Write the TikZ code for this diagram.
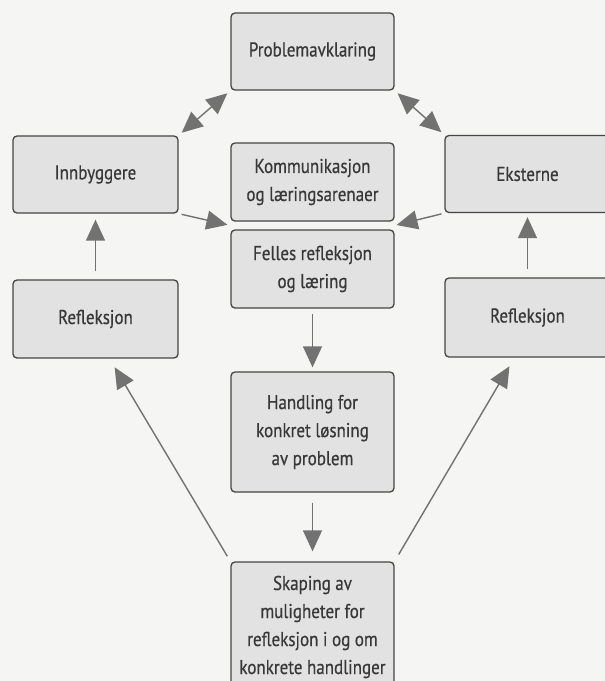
\documentclass[tikz,border=0pt]{standalone}
\usepackage{fontspec}
\setmainfont{PT Sans}[FakeStretch=0.85,FakeBold=0.5]
\usetikzlibrary{arrows.meta,calc}
\definecolor{paper}{HTML}{F5F5F4}
\definecolor{boxfill}{HTML}{E2E2E2}
\definecolor{boxline}{HTML}{454545}
\definecolor{arrgray}{HTML}{727272}
\definecolor{txt}{HTML}{383838}
\tikzset{
  box/.style={draw=boxline, line width=1.3pt, fill=boxfill, rounded corners=4pt,
    minimum width=163pt, align=center, text=txt, inner sep=2pt,
    font=\fontsize{20}{28}\selectfont},
  arr/.style={draw=arrgray, line width=1.4pt,
    -{Triangle[length=21pt,width=19pt]}},
  darr/.style={draw=arrgray, line width=1.4pt,
    {Triangle[length=21pt,width=19pt]}-{Triangle[length=21pt,width=19pt]}},
}
\begin{document}
\begin{tikzpicture}[x=1pt,y=-1pt]
\useasboundingbox (0,0) rectangle (605,681);
\fill[paper] (0,0) rectangle (605,681);
\clip (0,0) rectangle (605,681);
\node[box, minimum height=77pt] (prob) at (312.5,51.5) {Problemavklaring};
\node[box, minimum width=165pt, minimum height=77pt] (innb) at (95.5,174.5) {Innbyggere};
\node[box, minimum height=78pt] (komm) at (312.5,182) {Kommunikasjon\\og læringsarenaer};
\node[box, minimum height=78pt] (fell) at (312.5,269) {Felles refleksjon\\og læring};
\node[box, minimum width=165pt, minimum height=77pt] (ekst) at (527.5,174) {Eksterne};
\node[box, minimum width=165pt, minimum height=78pt] (refl) at (95.5,319) {Refleksjon};
\node[box, minimum width=165pt, minimum height=79pt] (refr) at (527.5,317.5) {Refleksjon};
\node[box, minimum height=120pt] (hand) at (312.5,432) {Handling for\\konkret løsning\\av problem};
\node[box, minimum height=130pt] (skap) at (312.5,627) {Skaping av\\muligheter for\\refleksjon i og om\\konkrete handlinger};
\coordinate (jl) at ($(komm.south west)!0.5!(fell.north west)$);
\coordinate (jr) at ($(komm.south east)!0.5!(fell.north east)$);
\coordinate (rlb) at ($(refl.south)+(14,0)$);
\coordinate (rrb) at ($(refr.south)+(-13,0)$);
\draw[darr, shorten <=4pt, shorten >=4pt] (innb.north east) -- (prob.south west);
\draw[darr, shorten <=4pt, shorten >=4pt] (prob.south east) -- (ekst.north west);
\draw[arr, shorten <=3pt, shorten >=3pt] (innb.south east) -- (jl);
\draw[arr, shorten <=3pt, shorten >=2pt] (ekst.south west) -- (jr);
\draw[arr, shorten <=8pt, shorten >=6pt] (refl.north) -- (innb.south);
\draw[arr, shorten <=8pt, shorten >=4pt] (refr.north) -- (ekst.south);
\draw[arr, shorten <=5pt, shorten >=4pt] (fell) -- (hand);
\draw[arr, shorten <=10pt, shorten >=10pt] (hand) -- (skap);
\draw[arr, shorten <=6pt, shorten >=10pt] (skap.north west) -- (rlb);
\draw[arr, shorten <=8pt, shorten >=10pt] (skap.north east) -- (rrb);
\end{tikzpicture}
\end{document}
